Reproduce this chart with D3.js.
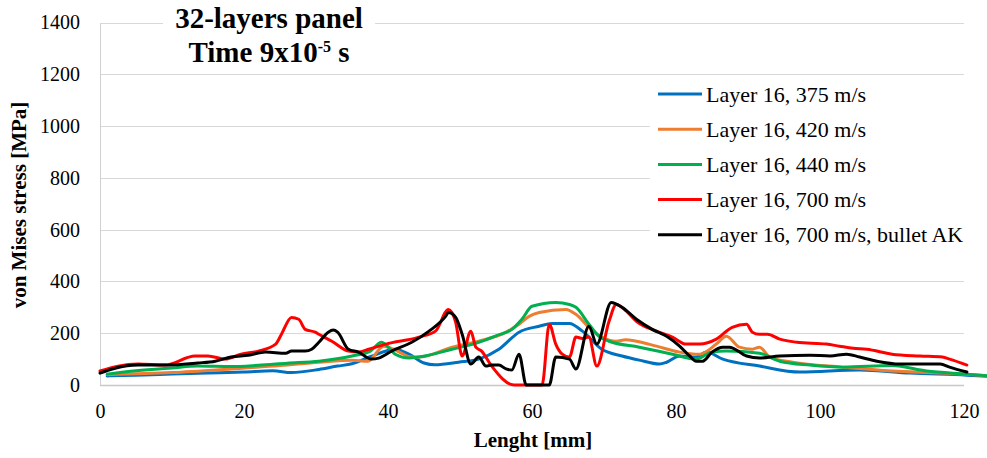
<!DOCTYPE html>
<html>
<head>
<meta charset="utf-8">
<script src="https://cdn.jsdelivr.net/npm/d3@7/dist/d3.min.js"></script>
<style>
  html, body { margin: 0; padding: 0; background: #fff; }
  svg { display: block; font-family: "Liberation Serif", "Times New Roman", "DejaVu Serif", serif; }
</style>
</head>
<body>
<svg id="chart" width="987" height="458"></svg>
<script>
// Stress distribution along the panel, layer 16 (x: length in mm, y: von Mises stress in MPa)
const seriesNames = [
  "Layer 16, 375 m/s",
  "Layer 16, 420 m/s",
  "Layer 16, 440 m/s",
  "Layer 16, 700 m/s",
  "Layer 16, 700 m/s, bullet AK"
];
const seriesColors = ["#0070C0", "#ED7D31", "#00B050", "#FF0000", "#000000"];

const v375 = [[1,35],[5,38],[10,42],[15,46],[20,50],[24,55],[26.6,48],[30.4,60],[33,73],[35,82],[37.6,110],[41,138],[42.9,119],[45,85],[46.5,78],[49.8,88],[52.6,100],[55.4,138],[58.2,204],[61,227],[62.8,238],[65.2,238],[67,208],[69.7,138],[72.5,112],[74.9,96],[77.7,81],[78.7,88],[80.5,112],[82.8,108],[84.2,127],[86.5,100],[91.6,73],[97.2,50],[105.5,58],[112.5,46],[120.4,38],[123.5,33]];
const v420 = [[1,40],[10,48],[18.2,62],[25,75],[30.4,88],[35,96],[37.2,92],[39.4,150],[41.3,131],[43.2,108],[44.3,108],[48.9,146],[52.6,169],[56.4,204],[58.2,235],[59.6,265],[61,280],[64.7,292],[66.1,273],[67.9,223],[69.7,185],[71.7,169],[73,175],[74.5,169],[77.3,150],[80.5,127],[83.3,119],[85.6,158],[87,188],[88.8,146],[90.6,138],[91.6,146],[93,108],[96.2,88],[103.2,69],[110,54],[117,46],[123.5,35]];
const v440 = [[1,42],[5,55],[10,66],[13.6,73],[18.2,71],[22,76],[26,84],[30.4,92],[35,112],[37.5,130],[39.1,165],[41,119],[42.9,104],[44.3,108],[48.9,138],[52.6,165],[55,190],[57.2,215],[58.6,254],[60,304],[63.3,319],[65.2,311],[66.1,300],[67.9,235],[69.3,188],[70.7,169],[74.9,146],[79.5,119],[82.8,100],[85,127],[87,131],[91.6,123],[94.4,92],[98.6,77],[103.2,69],[110,75],[114.8,54],[120.4,42],[123.5,35]];
const v700 = [[0,54],[2.5,73],[5.3,81],[9,77],[13.2,112],[15,112],[17.4,100],[19.6,119],[22,131],[24.4,158],[25.2,196],[26.6,261],[27.6,254],[28.5,215],[29.9,204],[30.4,196],[32.2,169],[34.5,131],[35.9,127],[37.3,138],[39.7,158],[44.3,185],[46.6,208],[48.4,292],[49.4,242],[50.3,112],[51.5,208],[52.2,146],[53,131],[54.4,73],[57.5,0],[61.4,0],[62.4,235],[63.3,158],[64.2,119],[65.2,108],[66.1,185],[67,180],[67.9,185],[69,73],[70.7,246],[71.7,311],[73.1,285],[74.5,246],[77.3,208],[79.5,185],[81.4,158],[83.3,158],[85.6,177],[87.8,223],[89.8,235],[90.6,204],[91.6,196],[92.7,196],[94.4,177],[96.8,165],[100.9,158],[102.7,150],[104.6,142],[106.5,138],[110,119],[113.9,112],[117,108],[118,100],[120.4,77]];
const v700ak = [[0,46],[2.1,65],[5.3,77],[9,77],[13.6,85],[16,92],[18.2,108],[20.6,115],[23,127],[25.8,123],[26.6,131],[28.5,131],[29.4,138],[30.4,165],[31.7,204],[32.4,212],[33,204],[34.5,138],[35.9,127],[37.7,100],[38.7,104],[40.5,131],[43.3,165],[45.7,208],[48,265],[48.4,280],[49.4,261],[50.3,196],[51.5,81],[52.6,108],[53.6,73],[54.4,77],[55.4,77],[56.4,62],[57.2,58],[58.2,119],[59.2,0],[62.4,0],[63.3,108],[65.2,100],[66.1,62],[67.9,227],[69,158],[71,319],[72.5,300],[74.5,254],[76.7,215],[78.7,188],[80.5,150],[81.9,112],[82.8,92],[83.7,92],[85,127],[86.5,146],[87.4,146],[89.8,112],[91.6,104],[94.4,112],[98.6,115],[101.4,112],[103.7,119],[105.5,108],[107.9,92],[111.1,81],[116.7,81],[118,69],[120.4,50]];
const seriesValues = [v375, v420, v440, v700, v700ak];

const xTicks = [0, 20, 40, 60, 80, 100, 120];
const yTicks = [0, 200, 400, 600, 800, 1000, 1200, 1400];

const plot = { left: 100, right: 964, top: 22.5, bottom: 385 };
const serif = "Liberation Serif, Times New Roman, DejaVu Serif, serif";

const svg = d3.select("#chart");
const x = d3.scaleLinear().domain([0, 120]).range([plot.left, plot.right]);
const y = d3.scaleLinear().domain([0, 1400]).range([plot.bottom, plot.top]);

// horizontal gridlines
svg.append("g").selectAll("line").data(yTicks.filter(d => d > 0)).join("line")
  .attr("x1", plot.left).attr("x2", plot.right)
  .attr("y1", d => Math.round(y(d)) + 0.5).attr("y2", d => Math.round(y(d)) + 0.5)
  .attr("stroke", "#d9d9d9").attr("stroke-width", 1);

// axis lines
svg.append("line").attr("x1", plot.left + 0.5).attr("x2", plot.left + 0.5)
  .attr("y1", Math.round(plot.top) + 0.5).attr("y2", Math.round(plot.bottom) + 0.5)
  .attr("stroke", "#d0d0d0").attr("stroke-width", 1);
svg.append("line").attr("x1", plot.left).attr("x2", plot.right)
  .attr("y1", Math.round(plot.bottom) + 0.5).attr("y2", Math.round(plot.bottom) + 0.5)
  .attr("stroke", "#c8c8c8").attr("stroke-width", 1.5);

// tick labels
const yAxis = svg.append("g").attr("transform", `translate(${plot.left},0)`)
  .call(d3.axisLeft(y).tickValues(yTicks).tickSize(0).tickPadding(20).tickFormat(d3.format("d")));
const xAxis = svg.append("g").attr("transform", `translate(0,${plot.bottom})`)
  .call(d3.axisBottom(x).tickValues(xTicks).tickSize(0).tickPadding(19).tickFormat(d3.format("d")));
[yAxis, xAxis].forEach(g => {
  g.attr("font-family", serif);
  g.select(".domain").remove();
  g.selectAll("text").attr("font-family", serif)
    .attr("font-size", 20).attr("fill", "#000");
});

// series lines
const line = d3.line().x(d => x(d[0])).y(d => y(d[1])).curve(d3.curveMonotoneX);
svg.append("g").selectAll("path").data(seriesValues).join("path")
  .attr("d", line)
  .attr("fill", "none")
  .attr("stroke", (d, i) => seriesColors[i])
  .attr("stroke-width", 3)
  .attr("stroke-linejoin", "round")
  .attr("stroke-linecap", "round");

// title block
svg.append("rect").attr("x", 163).attr("y", 0).attr("width", 212).attr("height", 70).attr("fill", "#fff");
svg.append("text").attr("text-anchor", "middle").attr("font-family", serif)
  .attr("font-weight", "bold").attr("font-size", 29).attr("fill", "#000")
  .attr("x", 269).attr("y", 28).text("32-layers panel");
const t2 = svg.append("text").attr("text-anchor", "middle").attr("font-family", serif)
  .attr("font-weight", "bold").attr("font-size", 29).attr("fill", "#000")
  .attr("x", 269).attr("y", 62);
t2.append("tspan").text("Time 9x10");
t2.append("tspan").attr("font-size", 16).attr("dy", -10).text("-5");
t2.append("tspan").attr("dy", 10).text(" s");

// legend
const legend = svg.append("g").attr("font-family", serif);
legend.append("rect").attr("x", 650).attr("y", 78).attr("width", 325).attr("height", 190).attr("fill", "#fff");
const items = legend.selectAll("g.item").data(seriesNames).join("g")
  .attr("class", "item")
  .attr("transform", (d, i) => `translate(0,${94 + i * 35.2})`);
items.append("line").attr("x1", 658).attr("x2", 702).attr("y1", 0).attr("y2", 0)
  .attr("stroke", (d, i) => seriesColors[i]).attr("stroke-width", 3);
items.append("text").attr("x", 706).attr("y", 7.5)
  .attr("font-size", 22).attr("fill", "#000").text(d => d);

// axis titles
svg.append("text").attr("x", 533).attr("y", 447).attr("text-anchor", "middle").attr("font-family", serif)
  .attr("font-weight", "bold").attr("font-size", 21).attr("fill", "#000").text("Lenght [mm]");
svg.append("text").attr("transform", "translate(26,205) rotate(-90)").attr("text-anchor", "middle").attr("font-family", serif)
  .attr("font-weight", "bold").attr("font-size", 21).attr("fill", "#000").text("von Mises stress [MPa]");
</script>
</body>
</html>
